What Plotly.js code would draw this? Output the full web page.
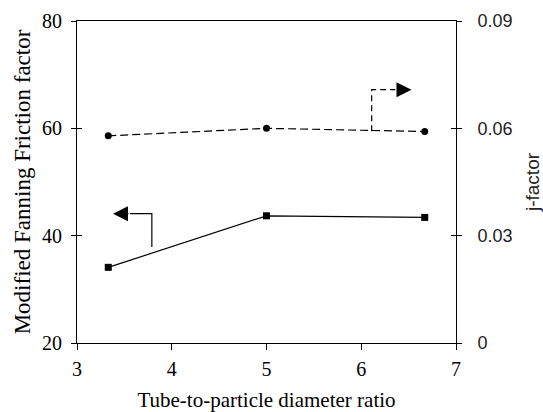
<!DOCTYPE html>
<html>
<head>
<meta charset="utf-8">
<script src="https://cdn.plot.ly/plotly-3.0.1.min.js"></script>
<style>html,body{margin:0;padding:0;background:#fff;}#chart{width:543px;height:412px;}</style>
</head>
<body>
<div id="chart"></div>
<script>
// Data
const ratio = [3.33, 5.0, 6.67];
const frictionFactor = [34.1, 43.7, 43.4];
const jFactor = [0.0579, 0.0600, 0.0591];

const xTicks = [3, 4, 5, 6, 7];
const yLeftTicks = [20, 40, 60, 80];
const yRightTicks = [0, 0.03, 0.06, 0.09];
const yRightLabels = ['0', '0.03', '0.06', '0.09'];

// Arrow annotation anchors (x, left-axis y / right-axis y)
const leftArrow = {x0: 3.79, yLine: 37.9, yTop: 44.1, tip: 3.38, base: 3.56};
const rightArrow = {x0: 6.11, yLine: 0.0592, yTop: 0.0708, tip: 6.53, base: 6.36};

const serif = 'Liberation Serif';
const sans = 'Liberation Sans';

const traces = [
  {x: ratio, y: frictionFactor, type: 'scatter', mode: 'lines+markers',
   line: {color: '#000', width: 1.2}, marker: {symbol: 'square', size: 7, color: '#000'},
   xaxis: 'x', yaxis: 'y', showlegend: false, hoverinfo: 'skip'},
  {x: ratio, y: jFactor, type: 'scatter', mode: 'lines+markers',
   line: {color: '#000', width: 1.2, dash: '8px,4px'}, marker: {symbol: 'circle', size: 7, color: '#000'},
   xaxis: 'x', yaxis: 'y2', showlegend: false, hoverinfo: 'skip'}
];

const layout = {
  width: 543, height: 412,
  margin: {l: 77, r: 87, t: 21, b: 69},
  paper_bgcolor: '#fff', plot_bgcolor: '#fff',
  showlegend: false,
  font: {family: serif, color: '#000', size: 20},
  xaxis: {
    range: [3, 7], tickvals: xTicks, ticktext: xTicks.map(String),
    ticks: 'outside', ticklen: 6, tickwidth: 1, tickcolor: '#000',
    showline: true, linecolor: '#000', linewidth: 1, mirror: true,
    showgrid: false, zeroline: false, ticklabelstandoff: 2,
    tickfont: {family: serif, size: 20, color: '#000'},
    title: {text: 'Tube-to-particle diameter ratio', font: {family: serif, size: 21, color: '#000'}, standoff: 16}
  },
  yaxis: {
    range: [20, 80], tickvals: yLeftTicks, ticktext: yLeftTicks.map(String),
    ticks: 'outside', ticklen: 5, tickwidth: 1, tickcolor: '#000',
    showline: true, linecolor: '#000', linewidth: 1,
    showgrid: false, zeroline: false, ticklabelstandoff: 5,
    tickfont: {family: serif, size: 20, color: '#000'},
    title: {text: 'Modified Fanning Friction factor', font: {family: serif, size: 23, color: '#000'}, standoff: 4}
  },
  yaxis2: {
    range: [0, 0.09], tickvals: yRightTicks, ticktext: yRightLabels,
    overlaying: 'y', side: 'right', anchor: 'x',
    ticks: 'outside', ticklen: 5, tickwidth: 1, tickcolor: '#000',
    showline: true, linecolor: '#000', linewidth: 1,
    showgrid: false, zeroline: false, ticklabelstandoff: 12,
    tickfont: {family: sans, size: 18, color: '#222'},
    title: {text: 'j-factor', font: {family: sans, size: 19, color: '#222'}, standoff: 16}
  },
  yaxis3: {
    range: [20, 80], tickvals: yLeftTicks, overlaying: 'y', side: 'left', anchor: 'x',
    ticks: 'inside', ticklen: 5, tickwidth: 1, tickcolor: '#000',
    showticklabels: false, showline: false, showgrid: false, zeroline: false
  },
  yaxis4: {
    range: [0, 0.09], tickvals: yRightTicks, overlaying: 'y', side: 'right', anchor: 'x',
    ticks: 'inside', ticklen: 5, tickwidth: 1, tickcolor: '#000',
    showticklabels: false, showline: false, showgrid: false, zeroline: false
  },
  shapes: [
    {type: 'path', xref: 'x', yref: 'y',
     path: `M${leftArrow.x0},${leftArrow.yLine} L${leftArrow.x0},${leftArrow.yTop} L${leftArrow.base},${leftArrow.yTop}`,
     line: {color: '#000', width: 1.2}},
    {type: 'path', xref: 'x', yref: 'y2',
     path: `M${rightArrow.x0},${rightArrow.yLine} L${rightArrow.x0},${rightArrow.yTop} L${rightArrow.base},${rightArrow.yTop}`,
     line: {color: '#000', width: 1.2, dash: '6px,4px'}}
  ],
  annotations: [
    {xref: 'x', yref: 'y', axref: 'x', ayref: 'y', x: leftArrow.tip, y: leftArrow.yTop,
     ax: leftArrow.base, ay: leftArrow.yTop, text: '', showarrow: true,
     arrowhead: 2, arrowsize: 3, arrowwidth: 1, arrowcolor: '#000'},
    {xref: 'x', yref: 'y2', axref: 'x', ayref: 'y2', x: rightArrow.tip, y: rightArrow.yTop,
     ax: rightArrow.base, ay: rightArrow.yTop, text: '', showarrow: true,
     arrowhead: 2, arrowsize: 3, arrowwidth: 1, arrowcolor: '#000'}
  ]
};

traces.push({x: [null], y: [null], yaxis: 'y3', xaxis: 'x', showlegend: false, hoverinfo: 'skip'});
traces.push({x: [null], y: [null], yaxis: 'y4', xaxis: 'x', showlegend: false, hoverinfo: 'skip'});

Plotly.newPlot('chart', traces, layout, {staticPlot: true, displayModeBar: false});
</script>
</body>
</html>
